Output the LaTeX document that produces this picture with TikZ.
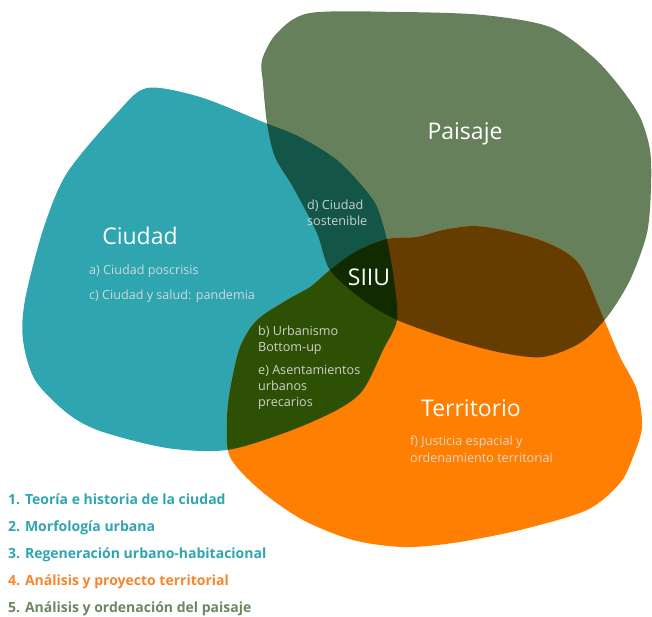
\documentclass[tikz,border=0pt]{standalone}
\usepackage{fontspec}
\setmainfont{Open Sans}
\usetikzlibrary{positioning}
\definecolor{ciudad}{HTML}{2EA5AF}
\definecolor{paisaje}{HTML}{66805B}
\definecolor{territorio}{HTML}{FE7F02}
\definecolor{ciupai}{HTML}{135547}
\definecolor{ciuter}{HTML}{2E5005}
\definecolor{paiter}{HTML}{653D00}
\definecolor{siiu}{HTML}{122A00}
\definecolor{legpai}{HTML}{6B8660}
\definecolor{legter}{HTML}{F7852B}
\tikzset{
  every node/.style={inner sep=0pt},
  title/.style={text=white,font=\fontsize{23}{27}\selectfont,anchor=base},
  item/.style={text=white!88!black,opacity=0.9,font=\fontsize{12.6}{16.2}\selectfont,align=left,anchor=north west},
  legend/.style={font=\fontsize{14}{17}\selectfont\bfseries,anchor=base west},
}
% blob outlines, in pixels of the reference
\newcommand{\ciudadpath}{plot[smooth cycle] coordinates {(147,88) (200,97) (263,122) (300,137) (337,160) (363,187) (377,207) (387,240) (394,280) (397,320) (383,350) (363,390) (337,410) (287,432) (227,450) (167,448) (100,431) (67,413) (35,380) (23,340) (25,300) (43,230) (67,173) (117,113)}}
\newcommand{\paisajepath}{plot[smooth cycle] coordinates {(310,13) (400,12) (483,15) (550,27) (593,57) (620,87) (640,117) (650,150) (651,187) (647,233) (630,280) (607,317) (580,343) (543,357) (503,353) (453,340) (397,320) (363,300) (330,270) (317,233) (293,187) (275,157) (267,123) (263,83) (262,60) (277,33)}}
\newcommand{\territoriopath}{plot[smooth cycle] coordinates {(387,239) (417,237) (443,230) (473,226) (503,230) (540,240) (567,253) (583,270) (603,317) (620,357) (637,390) (642,427) (633,457) (620,483) (587,510) (520,530) (453,543) (403,547) (353,540) (303,520) (260,490) (230,457) (227,420) (230,390) (240,347) (257,320) (287,300) (310,287) (330,270) (355,252)}}

\begin{document}
\begin{tikzpicture}[x=1pt,y=-1pt]
  \useasboundingbox (0,0) rectangle (652,617);
  % the three fields
  \fill[ciudad] \ciudadpath;
  \fill[paisaje] \paisajepath;
  \fill[territorio] \territoriopath;
  % overlaps
  \begin{scope}
    \clip \ciudadpath;
    \fill[ciupai] \paisajepath;
    \fill[ciuter] \territoriopath;
  \end{scope}
  \begin{scope}
    \clip \paisajepath;
    \fill[paiter] \territoriopath;
    \clip \territoriopath;
    \fill[siiu] \ciudadpath;
  \end{scope}

  \node[title] (ciu) at (140,245) {Ciudad};
  \node[title] (pai) at (465,140) {Paisaje};
  \node[title] (ter) at (471,416) {Territorio};
  \node[title] (core) at (369,285) {SIIU};

  \node[item] (a) at (89,265) {a) Ciudad poscrisis};
  \node[item] (c) at (89,290) {c) Ciudad y salud: pandemia};
  \node[item] (d) at (307,200) {d) Ciudad\\sostenible};
  \node[item] (b) at (258,326) {b) Urbanismo\\Bottom-up};
  \node[item] (e) at (258,365) {e) Asentamientos\\urbanos\\precarios};
  \node[item] (f) at (410,436) {f) Justicia espacial y\\ordenamiento territorial};

  \node[legend,text=ciudad] (l1) at (8,504) {1. Teoría e historia de la ciudad};
  \node[legend,text=ciudad] (l2) at (8,531) {2. Morfología urbana};
  \node[legend,text=ciudad] (l3) at (8,558) {3. Regeneración urbano-habitacional};
  \node[legend,text=legter] (l4) at (8,585) {4. Análisis y proyecto territorial};
  \node[legend,text=legpai] (l5) at (8,612) {5. Análisis y ordenación del paisaje};
\end{tikzpicture}
\end{document}
